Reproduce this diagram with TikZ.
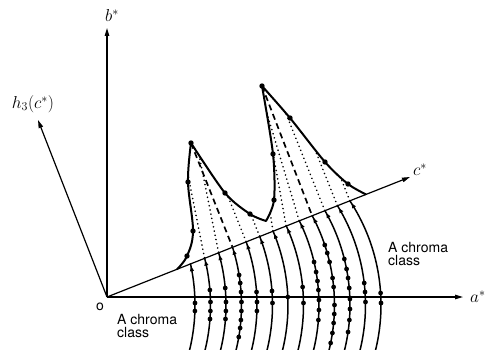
\documentclass[tikz,border=0pt]{standalone}
\usepackage{fontspec}
\setmainfont{TeX Gyre Heros}
\usetikzlibrary{arrows.meta,intersections,decorations.markings,calc}
\begin{document}
\begin{tikzpicture}[x=1pt,y=-1pt,
  axis/.style={line width=1.2pt,-{Triangle[length=8pt,width=4.5pt]}},
  chroma/.style={line width=1.5pt, postaction={decorate},
    decoration={markings, mark=at position -3pt with {\arrow{Triangle[length=5pt,width=3.8pt]}}}},
  surf/.style={line width=2pt, line join=round},
  drop/.style={line width=1.8pt, dash pattern=on 0.01pt off 4.3pt, line cap=round},
  peakline/.style={line width=1.7pt, dash pattern=on 6pt off 4pt},
  lbl/.style={font=\fontsize{14}{13.5}\selectfont, inner sep=0pt, align=left},
  mlbl/.style={font=\fontsize{16.5}{18}\selectfont, inner sep=0pt}
]
\useasboundingbox (0,0) rectangle (485,350);
\clip (0,0) rectangle (485,350);
% axes
\coordinate (O) at (107,297);
\coordinate (Bend) at (107,28);
\coordinate (Hend) at (38,120);
\coordinate (Cend) at (410,177);
\coordinate (Aend) at (463,297);
\draw[axis] (O) -- (Bend);
\draw[axis] (O) -- (Hend);
\draw[axis] (O) -- (Cend);
\draw[axis] (O) -- (Aend);
% surface profile points
\coordinate (P0) at (177,269.3);
\coordinate (P1) at (187,256);
\coordinate (P2) at (193,231);
\coordinate (P3) at (188,182);
\coordinate (P4) at (191,143);
\coordinate (P5) at (225,193);
\coordinate (P6) at (250,214);
\coordinate (P7) at (266,221);
\coordinate (P8) at (274,200);
\coordinate (P9) at (273,154);
\coordinate (P10) at (262,86);
\coordinate (P11) at (290,118);
\coordinate (P12) at (325,162);
\coordinate (P13) at (348,184);
\coordinate (P14) at (366,194.4);
\draw[surf, name path=prof]
  plot[smooth, tension=0.6] coordinates {(P0) (P1) (P2) (P3) (P4)}
  -- plot[smooth, tension=0.5] coordinates {(P4) (P5) (P6) (P7)}
  -- plot[smooth, tension=0.5] coordinates {(P7) (P8) (P9) (P10)}
  -- plot[smooth, tension=0.5] coordinates {(P10) (P11) (P12) (P13) (P14)};
\foreach \p in {P1,P2,P3,P4,P5,P6,P8,P9,P10,P11,P12,P13}
  \fill (\p) circle[radius=2.7pt];
% chroma arcs
\foreach \i in {0,...,12}{
  \pgfmathsetmacro\cx{5+15.5*\i}
  \pgfmathsetmacro\tt{-12.7-1.717*\i}
  \draw[chroma] plot[domain=14:\tt, samples=40, variable=\t] ({\cx+190*cos(\t)},{305+190*sin(\t)});
  \coordinate (T\i) at ({\cx+190*cos(\tt)},{305+190*sin(\tt)});
}
% data points on arcs
\foreach \i/\ys in {0/{303,311},1/{290,302,311,319},2/{288,302,311,319},
  3/{275,283,292,302,311,320,328,337},4/{292,302,311},5/{291,303},6/{297},
  7/{287,303},8/{262,272,281,290,300,310,320},
  9/{245,253,262,278,287,305,314,323,333,343},
  10/{259,269,278,288,299,309,320,332},11/{283,292,302},12/{293,303}}{
  \pgfmathsetmacro\cx{5+15.5*\i}
  \foreach \yd in \ys {
    \fill ({\cx+190*cos(asin((\yd-305)/190))},\yd) circle[radius=2.4pt];
  }
}
% dotted drop lines
\foreach \i/\s in {1/0.2,2/0.2,4/0.4,5/0.4,6/0.15,7/0.18,8/0.3,10/0.4,11/0.4,12/0.4}{
  \path[name path=L\i] (T\i) -- ++({-200*\s},-200);
  \path[name intersections={of=prof and L\i, sort by=L\i, by={H\i}}];
  \draw[drop] (T\i) -- (H\i);
}
\draw[peakline] (P4) -- (T3);
\draw[peakline] (P10) -- (T9);
% labels
\node[mlbl] (lb) at (112,16) {$b^{*}$};
\node[mlbl] (lh) at (33,104) {$h_3(c^{*})$};
\node[mlbl, anchor=west] (lc) at (413,170) {$c^{*}$};
\node[mlbl, anchor=west] (la) at (470,297) {$a^{*}$};
\node[lbl] (lo) at (100,307) {o};
\node[lbl, anchor=north west] (t1) at (117,314) {A chroma\\class};
\node[lbl, anchor=north west] (t2) at (388,242) {A chroma\\class};
\end{tikzpicture}
\end{document}
